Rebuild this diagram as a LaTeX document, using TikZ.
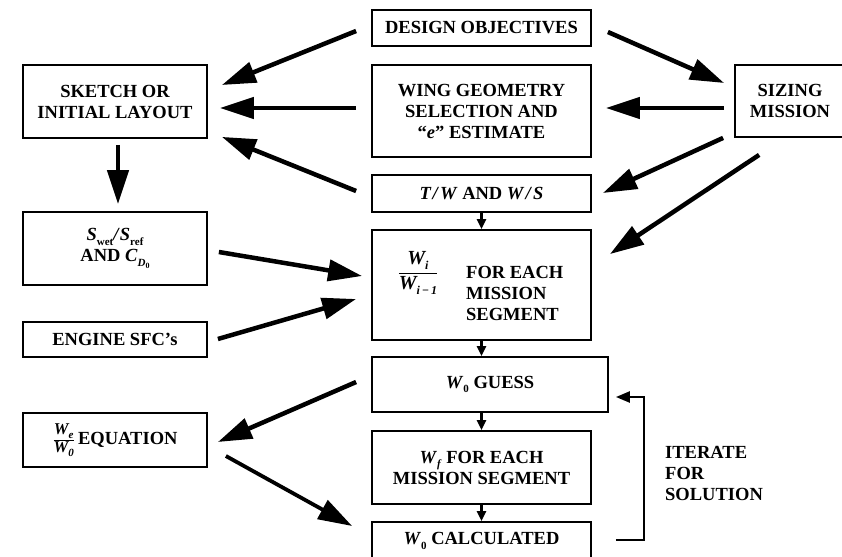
\documentclass[tikz,border=0pt]{standalone}
\usepackage{amsmath}
\usepackage{fontspec}
\setmainfont{Liberation Serif}
\usetikzlibrary{arrows.meta,calc}
\newcommand{\bxfont}{\fontsize{18.5}{21}\selectfont\bfseries}
\newcommand{\lsub}[2]{\raisebox{-0.25em}{\fontsize{#1}{#1}\selectfont #2}}
\newcommand{\myfrac}[3]{$\genfrac{}{}{0.9pt}{#1}{\hbox{#2}}{\hbox{#3}}$}
\begin{document}
\begin{tikzpicture}[x=1pt,y=-1pt,
  box/.style={draw,line width=1.8pt,inner sep=0pt,align=center,font=\bxfont},
  plain/.style={inner sep=0pt,font=\bxfont},
  bigarrow/.style={line width=4.5pt,-{Triangle[length=34pt,width=21pt]}},
  smallarrow/.style={line width=2.5pt,-{Triangle[length=10pt,width=9pt]}},
  looparrow/.style={line width=2.5pt,-{Triangle[length=14pt,width=11pt]}},
]
\useasboundingbox (0,0) rectangle (842,556);

% boxes
\node[box,minimum width=219pt,minimum height=36pt] (DO) at (481.5,28) {DESIGN OBJECTIVES};
\node[box,minimum width=184pt,minimum height=73pt] (SK) at (115,101.5) {SKETCH OR\\INITIAL LAYOUT};
\node[box,minimum width=219pt,minimum height=92pt] (WG) at (481.5,111) {WING GEOMETRY\\SELECTION AND\\``\textit{e}'' ESTIMATE};
\node[box,minimum width=110pt,minimum height=72pt] (SZ) at (790,101) {SIZING\\MISSION};
\node[box,minimum width=219pt,minimum height=37pt] (TW) at (481.5,193.5) {\textit{T}\kern1pt\textit{/}\kern1pt\textit{W} AND \textit{W}\kern1pt\textit{/}\kern1pt\textit{S}};
\node[box,minimum width=184pt,minimum height=73pt] (SW) at (115,248.5) {\textit{S}\lsub{11}{wet}\textit{/}\textit{S}\lsub{11}{ref}\\AND \textit{C}\lsub{11}{\textit{D}\lsub{8}{0}}};
\node[box,minimum width=219pt,minimum height=110pt] (WI) at (481.5,285) {};
\node[plain] (WIfrac) at (418,273) {\myfrac{0}{\fontsize{20}{20}\selectfont\itshape W\lsub{12}{i}}{\fontsize{20}{20}\selectfont\itshape W\lsub{12}{i\,−\,1}}};
\node[plain,align=left,anchor=west] (WItxt) at (466,293) {FOR EACH\\MISSION\\SEGMENT};
\node[box,minimum width=184pt,minimum height=35pt] (EN) at (115,339.5) {ENGINE SFC's};
\node[box,minimum width=236pt,minimum height=55pt] (GU) at (490,384.5) {\textit{W}\lsub{11}{0} GUESS};
\node[box,minimum width=184pt,minimum height=54pt] (WE) at (115,440) {\myfrac{1}{\fontsize{16.5}{16.5}\selectfont\bfseries\itshape W\lsub{11}{e}}{\fontsize{16.5}{16.5}\selectfont\bfseries\itshape W\lsub{11}{0}}\,EQUATION};
\node[box,minimum width=219pt,minimum height=73pt] (WF) at (481.5,467.5) {\textit{W}\lsub{11}{\textit{f}} FOR EACH\\MISSION SEGMENT};
\node[box,minimum width=219pt,minimum height=38pt] (CA) at (481.5,541) {\textit{W}\lsub{11}{0} CALCULATED};
\node[plain,align=left,anchor=west] (IT) at (665,473) {ITERATE\\FOR\\SOLUTION};

% big arrows
\draw[bigarrow] ($(DO.west)+(-15,3)$) -- ($(SK.east)+(14,-16.5)$);
\draw[bigarrow] ($(WG.west)+(-15,-3)$) -- ($(SK.east)+(12,6.5)$);
\draw[bigarrow] ($(TW.west)+(-15,-2.5)$) -- ($(SK.south east)+(14,-2)$);
\draw[bigarrow] ($(DO.east)+(16,4)$) -- ($(SZ.west)+(-10,-18)$);
\draw[bigarrow] ($(SZ.west)+(-10,7)$) -- ($(WG.east)+(14,-3)$);
\draw[bigarrow] ($(SZ.south west)+(-11,0)$) -- ($(TW.east)+(11,-0.5)$);
\draw[bigarrow] ($(SZ.south west)+(25,17)$) -- ($(WI.north east)+(18,25)$);
\draw[bigarrow] ($(SK.south)+(3,6)$) -- ($(SW.north)+(3,-7)$);
\draw[bigarrow] ($(SW.east)+(11,3.5)$) -- ($(WI.west)+(-9,-9)$);
\draw[bigarrow] ($(EN.east)+(10,-0.5)$) -- ($(WI.west)+(-15,14)$);
\draw[bigarrow] ($(GU.west)+(-15,-2.5)$) -- ($(WE.east)+(10,2)$);
\draw[bigarrow,line width=3.8pt] ($(WE.east)+(18,16)$) -- ($(CA.west)+(-19,-15)$);

% small arrows
\draw[smallarrow] (TW.south) -- (WI.north);
\draw[smallarrow] (WI.south) -- (WI.south |- GU.north);
\draw[smallarrow] (WF.north |- GU.south) -- (WF.north);
\draw[smallarrow] (WF.south) -- (CA.north);

% iteration loop
\coordinate (L1) at ($(CA.east)+(24,-1)$);
\coordinate (L2) at (644,540);
\coordinate (L3) at (644,397);
\coordinate (L4) at ($(GU.east)+(7,12.5)$);
\draw[looparrow] (L1) -- (L2) -- (L3) -- (L4);
\end{tikzpicture}
\end{document}
